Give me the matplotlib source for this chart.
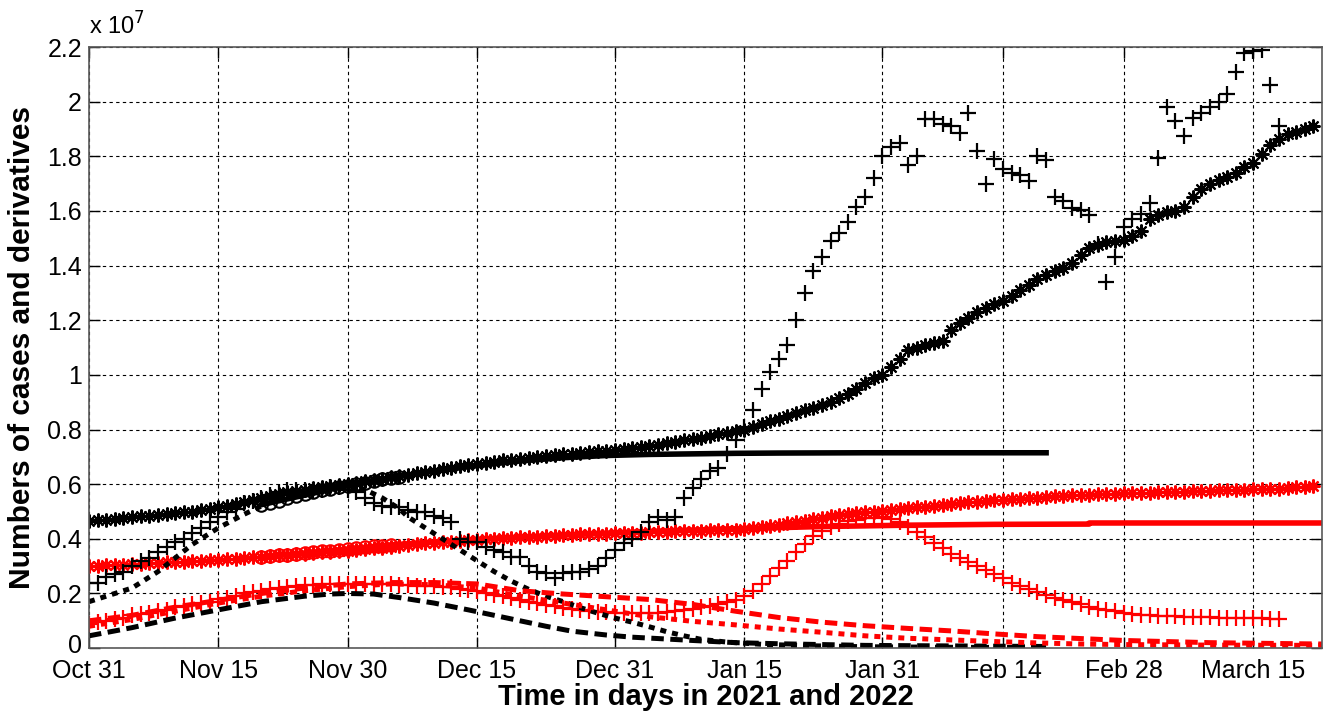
import numpy as np
import matplotlib
matplotlib.use("Agg")
from matplotlib import pyplot as plt
from matplotlib.transforms import ScaledTranslation

plt.rcParams["font.family"] = ["Liberation Sans", "DejaVu Sans"]

# values are in units of 1e7, x is days since Oct 31 2021
tick_days = [0, 15, 30, 45, 61, 76, 92, 106, 120, 135]
tick_labels = ["Oct 31", "Nov 15", "Nov 30", "Dec 15", "Dec 31", "Jan 15",
               "Jan 31", "Feb 14", "Feb 28", "March 15"]

# cumulative cases, black data (daily)
black_cum = [.465, .468, .47, .473, .476, .479, .482, .485, .488, .491,
             .494, .497, .50, .505, .51, .515, .52, .527, .535, .542,
             .55, .557, .565, .57, .575, .58, .585, .59, .593, .597,
             .60, .605, .61, .615, .62, .625, .63, .635, .64, .645,
             .65, .655, .66, .665, .67, .675, .679, .683, .687, .69,
             .694, .697, .70, .703, .706, .71, .712, .715, .717, .72,
             .722, .725, .728, .732, .736, .74, .745, .75, .755, .76,
             .765, .77, .776, .782, .788, .794, .80, .81, .82, .83,
             .84, .85, .86, .87, .88, .89, .90, .915, .93, .95,
             .97, .99, 1.0, 1.03, 1.06, 1.09, 1.10, 1.11, 1.115, 1.125,
             1.165, 1.19, 1.21, 1.23, 1.245, 1.26, 1.27, 1.29, 1.31, 1.33,
             1.35, 1.365, 1.38, 1.39, 1.41, 1.44, 1.465, 1.475, 1.485, 1.49,
             1.495, 1.51, 1.525, 1.57, 1.585, 1.595, 1.60, 1.615, 1.65, 1.68,
             1.70, 1.715, 1.725, 1.74, 1.76, 1.775, 1.81, 1.84, 1.865, 1.88,
             1.89, 1.90, 1.91]

# cumulative cases, red data (daily)
red_cum = [.300, .302, .303, .305, .306, .308, .309, .311, .312, .314,
           .315, .317, .318, .32, .322, .324, .326, .328, .33, .333,
           .335, .337, .34, .342, .344, .346, .348, .35, .352, .354,
           .356, .359, .362, .365, .368, .371, .374, .377, .38, .383,
           .386, .388, .39, .392, .394, .396, .398, .40, .402, .404,
           .405, .406, .408, .41, .411, .413, .414, .416, .417, .418,
           .419, .42, .421, .422, .423, .424, .425, .426, .427, .428,
           .429, .43, .431, .432, .433, .434, .435, .438, .442, .447,
           .452, .457, .462, .467, .472, .477, .482, .486, .49, .494,
           .497, .50, .503, .506, .509, .512, .515, .518, .521, .524,
           .527, .53, .533, .536, .539, .541, .543, .545, .547, .549,
           .551, .553, .555, .557, .559, .561, .562, .563, .564, .565,
           .566, .567, .568, .569, .57, .571, .572, .573, .574, .575,
           .576, .577, .578, .579, .58, .581, .582, .583, .584, .586,
           .588, .59, .592]

# daily new cases (scaled), black data
black_new = [.24, .24, .26, .27, .28, .30, .32, .33, .35, .37,
             .39, .40, .42, .44, .46, .48, .50, .51, .53, .54,
             .55, .56, .57, .58, .58, .58, .58, .58, .59, .59,
             .58, .57, .55, .53, .52, .515, .515, .505, .50, .50,
             .485, .475, .46, .40, .39, .39, .37, .36, .35, .335,
             .335, .30, .28, .275, .255, .275, .28, .28, .29, .30,
             .33, .36, .385, .40, .425, .46, .48, .47, .48, .55,
             .585, .62, .65, .66, .71, .76, .81, .87, .95, 1.01,
             1.06, 1.11, 1.20, 1.30, 1.38, 1.43, 1.49, 1.52, 1.56, 1.615,
             1.65, 1.72, 1.80, 1.835, 1.85, 1.77, 1.80, 1.935, 1.935, 1.92,
             1.91, 1.885, 1.96, 1.82, 1.70, 1.79, 1.755, 1.74, 1.73, 1.71,
             1.80, 1.785, 1.65, 1.635, 1.61, 1.605, 1.585, 1.48, 1.34, 1.43,
             1.54, 1.57, 1.59, 1.63, 1.795, 1.98, 1.93, 1.875, 1.94, 1.96,
             1.98, 2.00, 2.03, 2.11, 2.18, 2.185, 2.19, 2.06, 1.91]

# daily new cases (scaled), red data
red_new = [.09, .095, .10, .105, .11, .12, .125, .13, .135, .14,
           .15, .155, .16, .165, .17, .18, .185, .19, .20, .205,
           .21, .215, .22, .225, .228, .23, .232, .233, .234, .235,
           .235, .235, .235, .235, .234, .233, .232, .23, .228, .228,
           .228, .225, .222, .218, .214, .21, .203, .196, .189, .182,
           .176, .17, .164, .158, .153, .148, .144, .14, .137, .134,
           .131, .13, .129, .128, .128, .128, .13, .133, .137, .141,
           .145, .15, .155, .16, .168, .175, .19, .21, .235, .265,
           .295, .32, .35, .38, .41, .43, .445, .455, .465, .47,
           .475, .478, .48, .472, .46, .445, .425, .405, .385, .365,
           .345, .33, .315, .30, .285, .27, .255, .24, .228, .215,
           .205, .195, .185, .175, .168, .16, .152, .145, .14, .135,
           .13, .125, .122, .12, .118, .117, .116, .115, .115, .114,
           .113, .112, .112, .111, .11, .11, .109, .108, .105]

# model fits
black_fit_days = list(range(20, 37))
black_fit = [.525, .532, .54, .548, .556, .563, .57, .577, .583, .589,
             .595, .60, .606, .612, .618, .623, .628]
black_pred_days = [20, 30, 36, 40, 45, 50, 55, 60, 65, 70, 75, 80, 90, 100, 111]
black_pred = [.525, .595, .628, .648, .668, .685, .697, .705, .709, .711,
              .713, .714, .715, .715, .715]

red_fit_days = list(range(20, 36))
red_fit = [.333, .336, .339, .342, .345, .348, .351, .354, .357, .36,
           .363, .366, .369, .372, .375, .378]
red_pred_days = [20, 35, 45, 55, 65, 75, 85, 95, 105, 116, 116, 143]
red_pred = [.333, .378, .398, .414, .427, .437, .445, .45, .453, .454, .458, .458]

# model derivatives
k_dot_days = [0, 3, 5, 8, 10, 12, 15, 18, 20, 23, 25, 28, 30, 32, 34, 36, 37,
              39, 41, 43, 45, 47, 49, 51, 53, 55, 57, 59, 61, 63, 65, 67, 69,
              71, 74, 78, 83, 90, 100, 111]
k_dot = [.17, .20, .22, .28, .33, .38, .44, .49, .52, .56, .575, .59, .595,
         .58, .55, .51, .48, .44, .40, .36, .32, .28, .245, .215, .19, .17,
         .148, .128, .11, .095, .078, .06, .045, .032, .022, .014, .009,
         .005, .003, .002]
k_dash_days = [0, 5, 10, 15, 20, 25, 28, 30, 33, 36, 40, 44, 47, 50, 53, 56,
               60, 63, 66, 70, 75, 80, 90, 100, 111]
k_dash = [.045, .075, .11, .14, .17, .19, .198, .20, .198, .185, .165, .14,
          .12, .10, .08, .062, .048, .04, .035, .028, .02, .016, .01, .008, .006]
r_dash_days = [0, 5, 10, 15, 20, 25, 30, 35, 40, 45, 50, 55, 60, 65, 70, 75,
               80, 85, 90, 95, 100, 105, 110, 115, 120, 125, 130, 135, 143]
r_dash = [.10, .12, .15, .175, .20, .22, .235, .24, .24, .235, .21, .198,
          .188, .178, .16, .135, .112, .095, .082, .072, .063, .052, .042,
          .035, .028, .024, .02, .018, .015]
r_dot_days = [0, 5, 10, 15, 20, 25, 30, 35, 40, 45, 50, 55, 60, 65, 70, 75,
              80, 85, 90, 95, 100, 105, 110, 115, 120, 130, 143]
r_dot = [.08, .105, .135, .165, .19, .21, .225, .235, .232, .22, .19, .165,
         .14, .115, .098, .085, .07, .058, .045, .036, .03, .024, .019, .015,
         .013, .011, .01]

asterisk = (8, 2, 0)

fig = plt.figure(figsize=(13.28, 7.13), dpi=100)
ax = fig.add_axes([0.067, 0.091, 0.9285, 0.843])

ax.plot(range(len(black_cum)), black_cum, ls="none", marker=asterisk, color="k", ms=10, mew=1.5)
ax.plot(black_fit_days, black_fit, ls="none", marker="o", mfc="none", color="k", ms=9, mew=1.5)
ax.plot(black_pred_days, black_pred, "k-", lw=4)
ax.plot(range(len(red_cum)), red_cum, ls="none", marker=asterisk, color="r", ms=10, mew=1.6)
ax.plot(red_fit_days, red_fit, ls="none", marker="o", mfc="none", color="r", ms=9, mew=1.5)
ax.plot(red_pred_days, red_pred, "r-", lw=4)

ax.plot(range(len(black_new)), black_new, "k+", ms=12, mew=1.6)
ax.plot(range(len(red_new)), red_new, "r+", ms=11, mew=1.6)

ax.plot(k_dot_days, k_dot, color="k", lw=3.6, ls=(0, (1.2, 1.2)))
ax.plot(k_dash_days, k_dash, color="k", lw=3.6, ls=(0, (2.5, 1.3)))
ax.plot(r_dash_days, r_dash, color="r", lw=3.6, ls=(0, (2.5, 1.3)))
ax.plot(r_dot_days, r_dot, color="r", lw=3.6, ls=(0, (1.2, 1.2)))

ax.set_xlim(0, 143)
ax.set_ylim(0, 2.2)
ax.set_xticks(tick_days)
ax.set_xticklabels(tick_labels)
ax.set_yticks(np.arange(0, 2.21, 0.2))
ax.set_yticklabels(["0", "0.2", "0.4", "0.6", "0.8", "1", "1.2", "1.4", "1.6",
                    "1.8", "2", "2.2"])
ax.tick_params(direction="in", length=8, width=1, top=True, right=True,
               labelsize=18)
ax.tick_params(axis="x", pad=8)
ax.tick_params(axis="y", pad=5)
ax.grid(True, color="k", ls=(0, (3, 3)), lw=0.8)
for sp in ax.spines.values():
    sp.set_color("0.35")
    sp.set_linewidth(1.2)

# nudge the "0" label up a little so it clears "Oct 31"
zero_lab = ax.yaxis.get_major_ticks()[0].label1
zero_lab.set_transform(zero_lab.get_transform() + ScaledTranslation(0, 3 / 72, fig.dpi_scale_trans))

ax.set_xlabel("Time in days in 2021 and 2022", fontsize=21, fontweight="bold", labelpad=0)
ax.set_ylabel("Numbers of cases and derivatives", fontsize=21.5, fontweight="bold", labelpad=8)
fig.text(0.067, 0.945, r"x 10$^7$", fontsize=17, ha="left", va="bottom")

plt.savefig("out.png")
plt.close()
